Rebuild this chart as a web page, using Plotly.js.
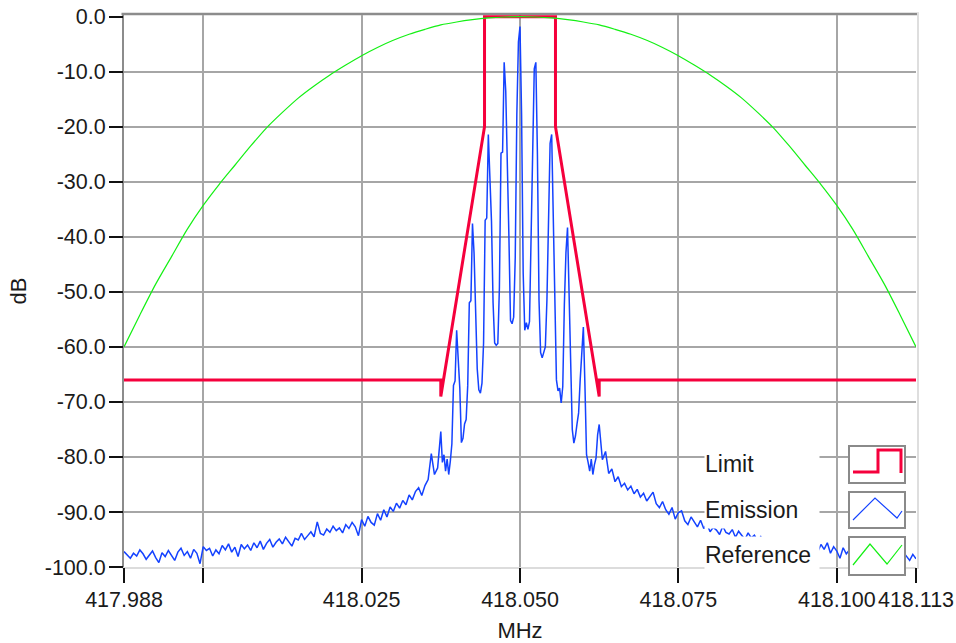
<!DOCTYPE html>
<html>
<head>
<meta charset="utf-8">
<script src="https://cdn.plot.ly/plotly-3.0.1.min.js"></script>
<style>
  html, body { margin: 0; padding: 0; background: #ffffff; }
  #chart { width: 956px; height: 643px; }
</style>
</head>
<body>
<div id="chart"></div>
<script>
// ---------------- data ----------------
const limitFreq = [417.9875, 418.0375, 418.0375, 418.0444, 418.0444, 418.0556, 418.0556, 418.0625, 418.0625, 418.1125];
const limitDb   = [-66, -66, -69, -20, 0, 0, -20, -69, -66, -66];

// Emission spectrum, sampled on three frequency grids
const EM_LEFT_START = 417.9875, EM_LEFT_STEP = 0.0005;
const emLeftDb = [
  -97.2,-97.8,-98.4,-97.5,-98.0,-96.9,-97.6,-98.6,-97.9,-97.1,
  -98.3,-99.2,-97.4,-98.1,-97.0,-97.8,-98.8,-97.3,-96.6,-97.9,
  -97.2,-98.4,-96.8,-97.5,-99.4,-96.3,-97.0,-96.6,-98.0,-96.9,
  -97.6,-96.1,-96.9,-95.8,-97.3,-96.4,-98.1,-95.9,-96.7,-96.0,
  -97.0,-95.6,-96.5,-95.3,-96.8,-95.7,-95.0,-96.4,-95.5,-94.9,
  -95.8,-94.6,-95.4,-96.2,-94.8,-95.1,-93.9,-95.0,-94.3,-93.6,
  -94.5,-91.8,-93.9,-94.2,-93.1,-93.7,-92.6,-93.4,-92.9,-93.8,
  -92.3,-93.0,-91.9,-92.7,-94.3,-91.4,-92.6,-90.8,-91.9,-92.4,
  -90.3,-91.5,-89.6,-90.9,-89.1,-89.9,-88.4,-89.3,-87.9,-88.7,
  -86.9,-87.8,-86.3,-85.6,-87.0,-85.2,-84.1,-79.4,-83.2,-82.0
];
const EM_CORE_START = 418.0375, EM_CORE_STEP = 0.00025;
const emCoreDb = [
  -75.4,-81.0,-79.6,-82.6,-80.4,-83.2,-80.8,-77.6,-67.0,-66.2,
  -57.0,-62.0,-67.5,-77.4,-76.6,-74.0,-73.2,-67.0,-52.0,-51.6,
  -37.6,-43.0,-52.2,-64.0,-67.8,-68.4,-66.6,-59.3,-37.0,-36.6,
  -21.4,-28.0,-37.2,-52.0,-59.3,-59.7,-59.4,-49.2,-24.8,-24.6,
  -8.3,-13.5,-24.8,-40.0,-55.2,-55.8,-54.6,-43.7,-17.8,-4.6,
  -1.8,-17.8,-46.5,-57.0,-55.6,-56.8,-55.4,-39.3,-25.0,-9.5,
  -8.3,-25.0,-51.5,-61.0,-62.0,-61.2,-60.0,-51.5,-38.3,-23.0,
  -21.4,-38.3,-52.0,-66.0,-68.0,-67.5,-70.2,-67.2,-52.4,-42.9,
  -38.3,-52.4,-66.0,-75.0,-77.5,-76.2,-74.0,-72.0,-66.0,-60.0,
  -56.4,-67.0,-79.6,-81.0,-82.6,-80.4,-83.2,-81.4,-80.2,-76.0,
  -74.1
];
const EM_RIGHT_START = 418.063, EM_RIGHT_STEP = 0.0005;
const emRightDb = [
  -80.5,-79.0,-83.0,-82.2,-84.5,-83.6,-85.4,-84.8,-86.0,-85.3,
  -86.7,-85.9,-87.3,-86.6,-88.0,-87.2,-86.4,-88.5,-89.2,-88.1,
  -89.6,-90.4,-89.2,-91.3,-90.1,-89.8,-91.6,-92.3,-90.9,-91.8,
  -92.7,-91.5,-93.0,-92.2,-93.6,-92.8,-93.3,-94.1,-92.6,-93.7,
  -94.0,-93.2,-94.6,-93.5,-94.3,-95.0,-93.8,-94.7,-94.2,-95.3,
  -94.5,-95.6,-94.8,-95.2,-96.0,-94.9,-95.7,-95.1,-96.3,-95.4,
  -96.1,-95.3,-96.7,-95.8,-96.4,-95.5,-96.9,-96.2,-97.2,-95.9,
  -96.8,-95.6,-97.5,-96.3,-97.1,-98.4,-96.5,-97.6,-96.9,-97.8,
  -97.0,-98.1,-96.8,-97.7,-98.5,-97.2,-98.0,-97.4,-98.7,-97.6,
  -98.2,-97.5,-96.4,-97.9,-98.6,-97.3,-98.1,-98.8,-97.7,-98.5
];

// Reference curve
const REF_START = 417.9875, REF_STEP = 0.0025;
const refDb = [
  -60, -54.2, -48.6, -43.6, -38.6, -34.3, -30.5, -27.0, -23.5, -20.2,
  -17.4, -14.8, -12.6, -10.6, -8.8, -7.1, -5.6, -4.3, -3.2, -2.3,
  -1.5, -0.97, -0.55, -0.24, -0.06, 0, -0.06, -0.24, -0.55, -0.97,
  -1.5, -2.3, -3.2, -4.3, -5.6, -7.1, -8.8, -10.6, -12.6, -14.8,
  -17.4, -20.2, -23.5, -27.0, -30.5, -34.3, -38.6, -43.6, -48.6, -54.2,
  -60
];

// ticks
const xTickVals = [417.9875, 418.000, 418.025, 418.050, 418.075, 418.100, 418.1125];
const xTickText = ['417.988', '', '418.025', '418.050', '418.075', '418.100', '418.113'];
const xGridVals = [418.000, 418.025, 418.050, 418.075, 418.100];
const yTickVals = [0, -10, -20, -30, -40, -50, -60, -70, -80, -90, -100];
const yTickText = ['0.0', '-10.0', '-20.0', '-30.0', '-40.0', '-50.0', '-60.0', '-70.0', '-80.0', '-90.0', '-100.0'];
const yGridVals = [-10, -20, -30, -40, -50, -60, -70, -80, -90];

const seriesNames = ['Limit', 'Emission', 'Reference'];
const seriesColors = ['#f5003c', '#1442ff', '#14f014'];

// ---------------- build ----------------
function grid(start, step, n) { const a = []; for (let i = 0; i < n; i++) a.push(+(start + i * step).toFixed(6)); return a; }
const emFreq = [].concat(
  grid(EM_LEFT_START, EM_LEFT_STEP, emLeftDb.length),
  grid(EM_CORE_START, EM_CORE_STEP, emCoreDb.length),
  grid(EM_RIGHT_START, EM_RIGHT_STEP, emRightDb.length));
const emDb = [].concat(emLeftDb, emCoreDb, emRightDb);
const refFreq = grid(REF_START, REF_STEP, refDb.length);

const X_RANGE = [417.9875, 418.1125];
const Y_RANGE = [-100, 0.3];

const M = { l: 124, r: 40, t: 15, b: 76 };
const W = 956, H = 643;
const PW = W - M.l - M.r, PH = H - M.t - M.b;
const px = p => (p - M.l) / PW;          // page pixel -> paper x
const py = p => (H - M.b - p) / PH;      // page pixel -> paper y

const FONT = 'Liberation Sans, Arial, sans-serif';
const TXT = '#1a1a1a';

const traces = [
  { x: limitFreq, y: limitDb, type: 'scatter', mode: 'lines', name: seriesNames[0],
    line: { color: seriesColors[0], width: 3 }, showlegend: false, hoverinfo: 'skip' },
  { x: emFreq, y: emDb, type: 'scatter', mode: 'lines', name: seriesNames[1],
    line: { color: seriesColors[1], width: 1.5 }, showlegend: false, hoverinfo: 'skip' },
  { x: refFreq, y: refDb, type: 'scatter', mode: 'lines', name: seriesNames[2],
    line: { color: seriesColors[2], width: 1.2, shape: 'spline', smoothing: 0.8 }, showlegend: false, hoverinfo: 'skip' },
  { x: [], y: [], xaxis: 'x2', yaxis: 'y2', type: 'scatter', mode: 'lines', showlegend: false, hoverinfo: 'skip' }
];

// legend (label boxes on the left, swatch boxes on the right)
const rows = [
  { top: 445, bot: 482, name: seriesNames[0] },
  { top: 491, bot: 528, name: seriesNames[1] },
  { top: 537, bot: 573, name: seriesNames[2] }
];
const swatchBoxes = [[446, 483], [492, 528], [537, 575]];
const annotations = rows.map(r => ({
  xref: 'paper', yref: 'paper', x: px(704), y: py((r.top + r.bot) / 2),
  xanchor: 'left', yanchor: 'middle', showarrow: false, align: 'left',
  width: 114, height: r.bot - r.top, bgcolor: '#ffffff', borderpad: 0,
  text: r.name, font: { family: FONT, size: 23, color: TXT }
}));

const glyphs = [
  [[853, 472], [878, 472], [878, 450], [901, 450], [901, 473]],
  [[853, 520], [875, 498], [897, 518], [902, 511]],
  [[853, 565], [870, 544], [887, 564], [902, 545]]
];
const glyphWidths = [3, 1.2, 1.2];

const shapes = [];
// frame: top (dark) and right (light)
shapes.push({ type: 'line', xref: 'paper', yref: 'paper', x0: px(121.5), x1: px(919), y0: py(14), y1: py(14),
  line: { color: '#8c8c8c', width: 2.5 }, layer: 'below' });
shapes.push({ type: 'line', xref: 'paper', yref: 'paper', x0: px(918), x1: px(918), y0: py(13), y1: py(569),
  line: { color: '#dedede', width: 2 }, layer: 'below' });
swatchBoxes.forEach(b => shapes.push({ type: 'rect', xref: 'paper', yref: 'paper',
  x0: px(849), x1: px(905), y0: py(b[1]), y1: py(b[0]),
  fillcolor: '#ffffff', line: { color: '#8a8a8a', width: 2 }, layer: 'above' }));
glyphs.forEach((g, i) => shapes.push({ type: 'path', xref: 'paper', yref: 'paper',
  path: g.map((p, k) => (k ? 'L' : 'M') + px(p[0]).toFixed(5) + ',' + py(p[1]).toFixed(5)).join(' '),
  line: { color: seriesColors[i], width: glyphWidths[i] }, layer: 'above' }));

const tickFont = { family: FONT, size: 21.5, color: TXT };

const layout = {
  width: W, height: H,
  margin: M,
  paper_bgcolor: '#ffffff', plot_bgcolor: '#ffffff',
  showlegend: false,
  xaxis: {
    range: X_RANGE, tickmode: 'array', tickvals: xGridVals, showticklabels: false, ticks: '',
    showgrid: true, gridcolor: '#a6a6a6', gridwidth: 2, zeroline: false,
    showline: true, linecolor: '#dcdcdc', linewidth: 2, fixedrange: true
  },
  yaxis: {
    range: Y_RANGE, tickmode: 'array', tickvals: yGridVals, showticklabels: false, ticks: '',
    showgrid: true, gridcolor: '#a6a6a6', gridwidth: 2, zeroline: false,
    showline: true, linecolor: '#8c8c8c', linewidth: 2.5, fixedrange: true
  },
  xaxis2: {
    overlaying: 'x', anchor: 'y', side: 'bottom', range: X_RANGE,
    tickmode: 'array', tickvals: xTickVals, ticktext: xTickText, tickangle: 0,
    ticks: 'outside', ticklen: 15, tickwidth: 2, tickcolor: '#111111',
    ticklabelstandoff: -2,
    showgrid: false, zeroline: false, showline: false, tickfont: tickFont, automargin: false,
    title: { text: 'MHz', font: { family: FONT, size: 22, color: TXT }, standoff: 11 }
  },
  yaxis2: {
    overlaying: 'y', anchor: 'x', side: 'left', range: Y_RANGE,
    tickmode: 'array', tickvals: yTickVals, ticktext: yTickText,
    ticks: 'outside', ticklen: 14, tickwidth: 2, tickcolor: '#111111',
    ticklabelstandoff: -1,
    showgrid: false, zeroline: false, showline: false, tickfont: tickFont, automargin: false,
    title: { text: 'dB', font: { family: FONT, size: 22, color: TXT }, standoff: 12 }
  },
  shapes: shapes,
  annotations: annotations
};

Plotly.newPlot('chart', traces, layout, { displayModeBar: false, staticPlot: true });
</script>
</body>
</html>
